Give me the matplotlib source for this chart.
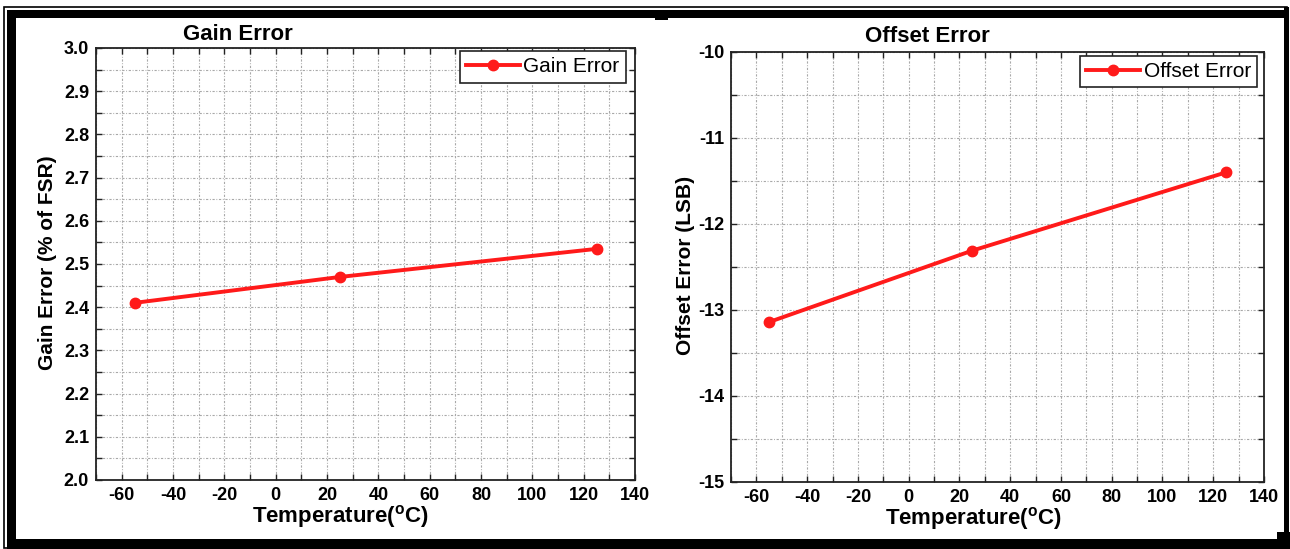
import matplotlib
matplotlib.use("Agg")
import matplotlib.pyplot as plt
from matplotlib.patches import Rectangle
from matplotlib.ticker import MultipleLocator

plt.rcParams['font.family'] = ['Liberation Sans', 'DejaVu Sans']
plt.rcParams['mathtext.fontset'] = 'custom'
plt.rcParams['mathtext.rm'] = 'Liberation Sans:bold'
plt.rcParams['mathtext.bf'] = 'Liberation Sans:bold'
plt.rcParams['axes.unicode_minus'] = False

# ---- data ----
temperature = [-55, 25, 125]
gain_error = [2.41, 2.47, 2.535]
offset_error = [-13.14, -12.31, -11.40]

gain_title = "Gain Error"
offset_title = "Offset Error"
gain_ylabel = "Gain Error (% of FSR)"
offset_ylabel = "Offset Error (LSB)"
xlabel = r"Temperature($^{\mathrm{o}}$C)"
x_ticks = [-60, -40, -20, 0, 20, 40, 60, 80, 100, 120, 140]
gain_yticks = [2.0, 2.1, 2.2, 2.3, 2.4, 2.5, 2.6, 2.7, 2.8, 2.9, 3.0]
offset_yticks = [-15, -14, -13, -12, -11, -10]

W, H = 1290, 549
fig = plt.figure(figsize=(W / 100, H / 100), dpi=100)
fig.patch.set_facecolor('white')


def ax_px(l, t, r, b):
    return fig.add_axes([l / W, 1 - b / H, (r - l) / W, (b - t) / H])


def rect_px(x0, y0, x1, y1, lw=0, fill=True):
    fig.add_artist(Rectangle((x0 / W, 1 - y1 / H), (x1 - x0) / W, (y1 - y0) / H,
                             transform=fig.transFigure, facecolor='black' if fill else 'none',
                             edgecolor='black', linewidth=lw, zorder=10))


def style(ax, ymin, ymax, ymin_step, yticks, fmt):
    ax.set_xlim(-70, 140)
    ax.set_ylim(ymin, ymax)
    ax.set_xticks(x_ticks)
    ax.set_xticklabels([str(v) for v in x_ticks])
    ax.xaxis.set_minor_locator(MultipleLocator(10))
    ax.set_yticks(yticks)
    ax.set_yticklabels([fmt(v) for v in yticks])
    ax.yaxis.set_minor_locator(MultipleLocator(ymin_step))
    ax.grid(True, which='both', color='#a8a8a8', linestyle=(0, (2, 1.5, 0.8, 1.5)), linewidth=0.8)
    ax.tick_params(which='both', direction='in', top=True, right=True, length=4,
                   width=1.0, color='#222222', labelsize=13, pad=5)
    for lab in ax.get_xticklabels() + ax.get_yticklabels():
        lab.set_fontweight('bold')
    for s in ax.spines.values():
        s.set_linewidth(1.3)
        s.set_color('#222222')
    ax.set_axisbelow(True)


def add_legend(ax, anchor):
    leg = ax.legend(loc='upper right', bbox_to_anchor=anchor, borderaxespad=0,
                    fancybox=False, edgecolor='#222222', framealpha=1, fontsize=15,
                    handlelength=2.6, handletextpad=0.15, borderpad=0.3)
    leg.get_frame().set_linewidth(1.2)


# left panel
ax1 = ax_px(96, 48, 635, 480)
ax1.plot(temperature, gain_error, color='#ff1a1a', linewidth=2.8, marker='o',
         markersize=7.5, label=gain_title)
style(ax1, 2.0, 3.0, 0.05, gain_yticks, lambda v: f"{v:.1f}")
add_legend(ax1, (0.983, 0.993))

# right panel
ax2 = ax_px(731, 52, 1264, 482)
ax2.plot(temperature, offset_error, color='#ff1a1a', linewidth=2.8, marker='o',
         markersize=7.5, label=offset_title)
style(ax2, -15, -10, 0.5, offset_yticks, lambda v: f"{v:d}")
add_legend(ax2, (0.987, 0.991))


def ftext(x, y, s, **kw):
    fig.text(x / W, 1 - y / H, s, ha='center', va='center', fontweight='bold', **kw)


ftext(238, 35, gain_title, fontsize=16)
ftext(927, 36, offset_title, fontsize=16)
ftext(48, 263, gain_ylabel, fontsize=15, rotation=90)
ftext(685, 265, offset_ylabel, fontsize=15, rotation=90)
ftext(340, 517, xlabel, fontsize=16)
ftext(973, 518, xlabel, fontsize=16)

# outer frame
rect_px(4, 7, 1287, 548, lw=1.2, fill=False)
rect_px(7, 10, 1286, 18)
rect_px(7, 10, 16, 549)
rect_px(7, 539, 1290, 549)
rect_px(1284, 7, 1289, 549)
rect_px(1277, 532, 1290, 549)
rect_px(655, 18, 668, 20)

fig.savefig("out.png", dpi=100)
